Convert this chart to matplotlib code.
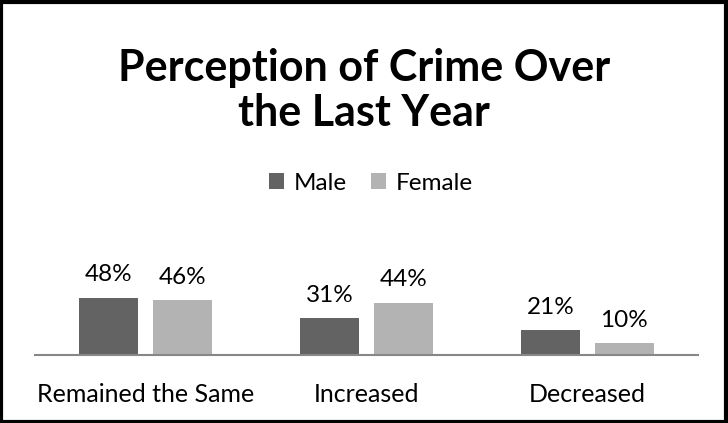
import matplotlib
matplotlib.use("Agg")
import matplotlib.pyplot as plt
from matplotlib.patches import Rectangle
import numpy as np

categories = ["Remained the Same", "Increased", "Decreased"]
male = [48, 31, 21]
female = [46, 44, 10]
series_names = ["Male", "Female"]

plt.rcParams['font.family'] = ['Lato', 'DejaVu Sans']

W, H = 728, 423
fig = plt.figure(figsize=(W/100, H/100), dpi=100)
fig.patch.set_facecolor("white")

# axes in pixel coordinates
left, right = 35, 698
bottom, top = 355, 255
ax = fig.add_axes([left/W, 1-bottom/H, (right-left)/W, (bottom-top)/H])

x = np.arange(len(categories))
bw = 0.267
off = 0.166
c_male = "#636363"
c_female = "#b3b3b3"
b1 = ax.bar(x - off, male, bw, color=c_male, label=series_names[0])
b2 = ax.bar(x + off, female, bw, color=c_female, label=series_names[1])

for bars, vals in ((b1, male), (b2, female)):
    for r, v in zip(bars, vals):
        ax.annotate(f"{v}%", (r.get_x() + r.get_width()/2, v), xytext=(0, 9),
                    textcoords="offset points", ha="center", va="bottom",
                    fontsize=17.5, color="black")

ax.set_xlim(-0.5, 2.5)
ax.set_ylim(0, 100/1.19)
for s in ["top", "right", "left"]:
    ax.spines[s].set_visible(False)
ax.spines["bottom"].set_color("#878787")
ax.spines["bottom"].set_linewidth(1.5)
ax.set_yticks([])
ax.set_xticks(x)
ax.set_xticklabels(categories, fontsize=18)
ax.tick_params(axis="x", length=0, pad=20)
ax.set_facecolor("none")

fig.text(0.5, 1-68/H, "Perception of Crime Over", ha="center", va="center",
         fontsize=31, fontweight="bold")
fig.text(0.5, 1-113/H, "the Last Year", ha="center", va="center",
         fontsize=31, fontweight="bold")

fig.legend(handles=[b1, b2], labels=series_names, loc="center",
           bbox_to_anchor=(0.5 + 7/W, 1-183/H), ncol=2, frameon=False, fontsize=17.5,
           handlelength=0.62, handleheight=0.62, handletextpad=0.4, columnspacing=1.0)

fig.patches.append(Rectangle((0.002, 0.003), 0.995, 0.993, transform=fig.transFigure,
                             fill=False, edgecolor="black", linewidth=3))

fig.savefig("out.png", dpi=100)
